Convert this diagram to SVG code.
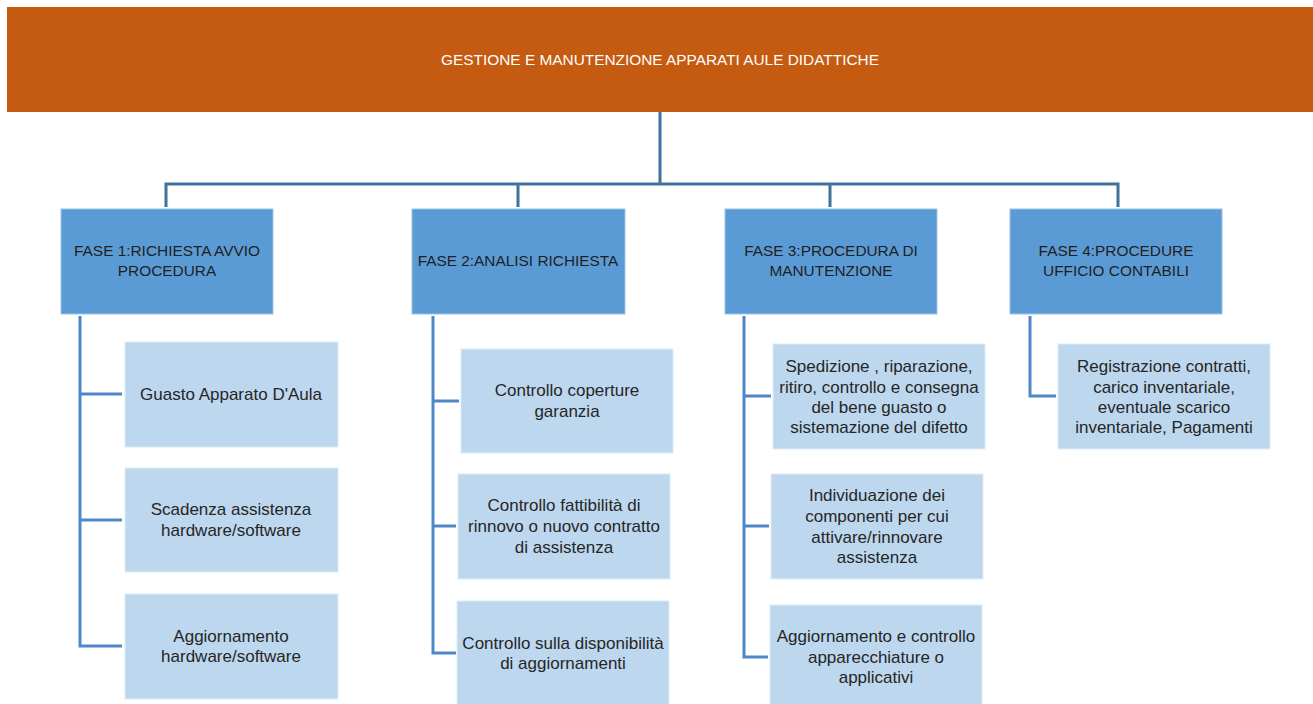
<svg xmlns="http://www.w3.org/2000/svg" width="1313" height="704" viewBox="0 0 1313 704">
<style>
.top{fill:#C55A11}
.fase{fill:#5B9BD5;stroke:#9DC3E6;stroke-width:1}
.child{fill:#BDD7EE;stroke:#DEEBF7;stroke-width:1}
.tt{font-family:"Liberation Sans",Arial,sans-serif;font-size:15.4px;fill:#ffffff;text-anchor:middle}
.ft{font-family:"Liberation Sans",Arial,sans-serif;font-size:15.4px;fill:#1F1F1F;text-anchor:middle}
.ct{font-family:"Liberation Sans",Arial,sans-serif;font-size:17px;fill:#262626;text-anchor:middle}
.l1{fill:none;stroke:#41719C;stroke-width:3}
.l2{fill:none;stroke:#4F88C8;stroke-width:3}
</style>
<rect width="1313" height="704" fill="#ffffff"/>
<g id="connectors">
<path class="l1" d="M660 112V184M166 207V184H1118V207M518 184V207M830 184V207"/>
<path class="l2" d="M80 316V646H122M80 394H122M80 520H122"/>
<path class="l2" d="M433 316V653H456M433 401H459M433 526H456"/>
<path class="l2" d="M744 316V657H768M744 396H771M744 526H769"/>
<path class="l2" d="M1030 316V396H1056"/>
</g>
<g id="root">
<rect class="top" x="7" y="7" width="1306" height="105"/>
<text class="tt" x="660" y="65">GESTIONE E MANUTENZIONE APPARATI AULE DIDATTICHE</text>
</g>
<g id="fase1">
<rect class="fase" x="61" y="209" width="212" height="105"/>
<text class="ft" x="167" y="256">FASE 1:RICHIESTA AVVIO</text>
<text class="ft" x="167" y="276">PROCEDURA</text>
</g>
<g id="fase2">
<rect class="fase" x="412" y="209" width="213" height="105"/>
<text class="ft" x="518" y="266">FASE 2:ANALISI RICHIESTA</text>
</g>
<g id="fase3">
<rect class="fase" x="725" y="209" width="212" height="105"/>
<text class="ft" x="831" y="256">FASE 3:PROCEDURA DI</text>
<text class="ft" x="831" y="276">MANUTENZIONE</text>
</g>
<g id="fase4">
<rect class="fase" x="1010" y="209" width="212" height="105"/>
<text class="ft" x="1116" y="256">FASE 4:PROCEDURE</text>
<text class="ft" x="1116" y="276">UFFICIO CONTABILI</text>
</g>
<g id="c1a">
<rect class="child" x="125" y="342" width="213" height="105"/>
<text class="ct" x="231" y="400">Guasto Apparato D'Aula</text>
</g>
<g id="c1b">
<rect class="child" x="125" y="468" width="213" height="104"/>
<text class="ct" x="231" y="515">Scadenza assistenza</text>
<text class="ct" x="231" y="536">hardware/software</text>
</g>
<g id="c1c">
<rect class="child" x="125" y="594" width="213" height="105"/>
<text class="ct" x="231" y="642">Aggiornamento</text>
<text class="ct" x="231" y="662">hardware/software</text>
</g>
<g id="c2a">
<rect class="child" x="461" y="349" width="212" height="104"/>
<text class="ct" x="567" y="396">Controllo coperture</text>
<text class="ct" x="567" y="417">garanzia</text>
</g>
<g id="c2b">
<rect class="child" x="458" y="474" width="212" height="105"/>
<text class="ct" x="564" y="511">Controllo fattibilità di</text>
<text class="ct" x="564" y="532">rinnovo o nuovo contratto</text>
<text class="ct" x="564" y="553">di assistenza</text>
</g>
<g id="c2c">
<rect class="child" x="457" y="601" width="212" height="105"/>
<text class="ct" x="563" y="649">Controllo sulla disponibilità</text>
<text class="ct" x="563" y="669">di aggiornamenti</text>
</g>
<g id="c3a">
<rect class="child" x="773" y="344" width="212" height="105"/>
<text class="ct" x="879" y="372">Spedizione , riparazione,</text>
<text class="ct" x="879" y="393">ritiro, controllo e consegna</text>
<text class="ct" x="879" y="413">del bene guasto o</text>
<text class="ct" x="879" y="433">sistemazione del difetto</text>
</g>
<g id="c3b">
<rect class="child" x="771" y="474" width="212" height="105"/>
<text class="ct" x="877" y="501">Individuazione dei</text>
<text class="ct" x="877" y="522">componenti per cui</text>
<text class="ct" x="877" y="543">attivare/rinnovare</text>
<text class="ct" x="877" y="563">assistenza</text>
</g>
<g id="c3c">
<rect class="child" x="770" y="605" width="212" height="102"/>
<text class="ct" x="876" y="642">Aggiornamento e controllo</text>
<text class="ct" x="876" y="663">apparecchiature o</text>
<text class="ct" x="876" y="683">applicativi</text>
</g>
<g id="c4a">
<rect class="child" x="1058" y="344" width="212" height="105"/>
<text class="ct" x="1164" y="372">Registrazione contratti,</text>
<text class="ct" x="1164" y="393">carico inventariale,</text>
<text class="ct" x="1164" y="413">eventuale scarico</text>
<text class="ct" x="1164" y="433">inventariale, Pagamenti</text>
</g>
</svg>
